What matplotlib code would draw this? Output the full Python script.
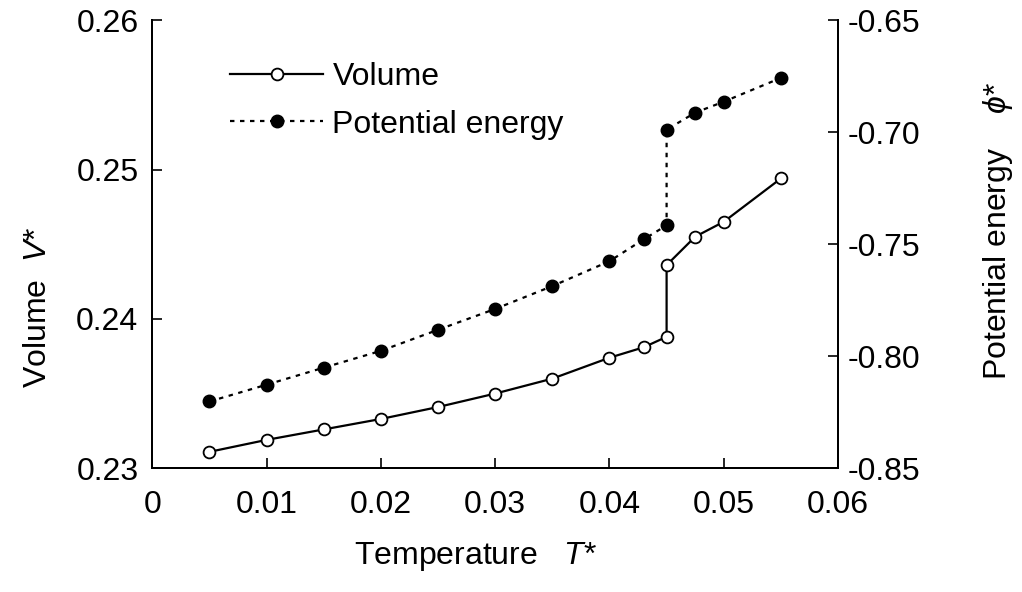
import numpy as np
import matplotlib.pyplot as plt

# data
T = [0.005, 0.010, 0.015, 0.020, 0.025, 0.030, 0.035, 0.040, 0.043, 0.045, 0.045, 0.0475, 0.050, 0.055]
V = [0.2311, 0.2319, 0.2326, 0.2333, 0.2341, 0.2350, 0.2360, 0.2374, 0.2381, 0.2388, 0.2436, 0.2455, 0.2465, 0.2494]
phi = [-0.8202, -0.8127, -0.8051, -0.7976, -0.7882, -0.7789, -0.7687, -0.7576, -0.7478, -0.7416, -0.6989, -0.6913, -0.6864, -0.6758]

xticks = [0, 0.01, 0.02, 0.03, 0.04, 0.05, 0.06]
xlabels = ['0', '0.01', '0.02', '0.03', '0.04', '0.05', '0.06']
vticks = [0.23, 0.24, 0.25, 0.26]
pticks = [-0.85, -0.80, -0.75, -0.70, -0.65]

plt.rcParams['font.family'] = ['Liberation Sans', 'DejaVu Sans']
plt.rcParams['mathtext.fontset'] = 'custom'
plt.rcParams['mathtext.it'] = 'Liberation Sans:italic'
plt.rcParams['mathtext.rm'] = 'Liberation Sans'
plt.rcParams['axes.unicode_minus'] = False
plt.rcParams['font.size'] = 23

fig = plt.figure(figsize=(10.22, 5.92), dpi=100)
ax1 = fig.add_axes([0.149, 0.209, 0.671, 0.757])
ax2 = ax1.twinx()

l1, = ax1.plot(T, V, '-', color='black', lw=1.6, marker='o', ms=8.5,
               mfc='white', mec='black', mew=1.3, label='Volume')
l2, = ax2.plot(T, phi, color='black', lw=1.6, ls=(0, (2, 2.5)), marker='o', ms=9,
               mfc='black', mec='black', label='Potential energy')

ax1.set_xlim(0, 0.06)
ax1.set_ylim(0.23, 0.26)
ax2.set_ylim(-0.85, -0.65)
ax1.set_xticks(xticks)
ax1.set_xticklabels(xlabels)
ax1.set_yticks(vticks)
ax1.set_yticklabels(['%.2f' % v for v in vticks])
ax2.set_yticks(pticks)
ax2.set_yticklabels(['%.2f' % p for p in pticks])

for a in (ax1, ax2):
    a.spines['top'].set_visible(False)
    a.spines['left'].set_linewidth(1.4)
    a.spines['right'].set_linewidth(1.4)
    a.spines['bottom'].set_linewidth(1.4)
ax1.tick_params(axis='x', direction='in', length=7, width=1.2, pad=16)
ax1.tick_params(axis='y', direction='in', length=7, width=1.2, pad=10)
ax2.tick_params(axis='y', direction='in', length=7, width=1.2, pad=7)

ax1.set_xlabel('Temperature   $T$*')
ax1.xaxis.set_label_coords(0.472, -0.16)
ax1.set_ylabel('Volume  $V$*')
ax1.yaxis.set_label_coords(-0.145, 0.36)
ax2.set_ylabel('Potential energy    $\\phi$*')
ax2.yaxis.set_label_coords(1.208, 0.53)

ax1.legend([l1, l2], ['Volume', 'Potential energy'], loc='upper left',
           bbox_to_anchor=(0.095, 0.935), frameon=False, handlelength=2.9,
           handletextpad=0.3, labelspacing=0.55, borderaxespad=0)

fig.savefig('out.png', dpi=100)
